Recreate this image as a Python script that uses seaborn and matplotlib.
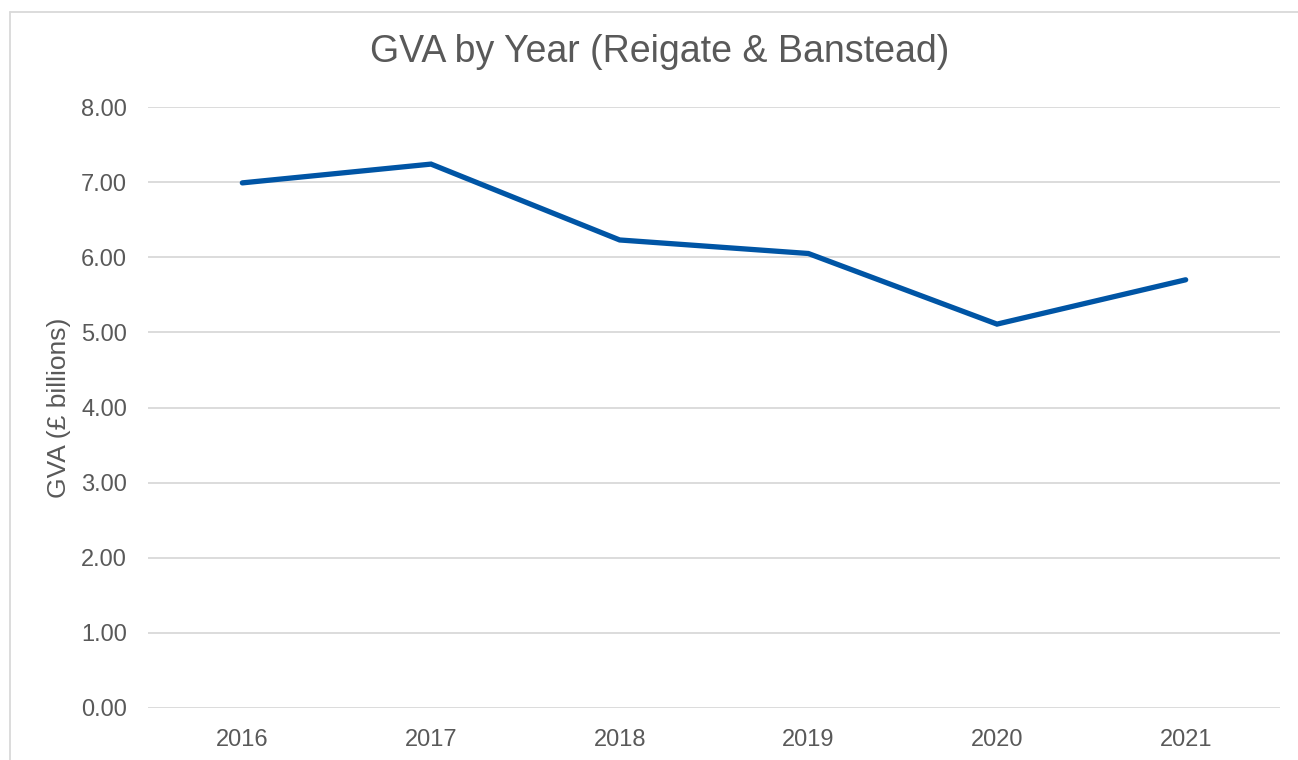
import matplotlib
matplotlib.use("Agg")
import matplotlib.pyplot as plt
import seaborn as sns
import pandas as pd
from matplotlib.lines import Line2D

years = ["2016", "2017", "2018", "2019", "2020", "2021"]
gva = [6.99, 7.24, 6.23, 6.05, 5.11, 5.70]
yticks = [0, 1, 2, 3, 4, 5, 6, 7, 8]

sns.set_theme(style="white")
plt.rcParams["font.family"] = ["Liberation Sans", "DejaVu Sans"]

df = pd.DataFrame({"Year": years, "GVA": gva})

fig = plt.figure(figsize=(12.98, 7.60), dpi=100)
ax = fig.add_axes([148/1298, 52/760, (1280-148)/1298, (708-107)/760])

text_col = "#595959"
sns.lineplot(data=df, x="Year", y="GVA", ax=ax, color="#0055A5", linewidth=3.8,
             solid_capstyle="round", solid_joinstyle="miter", sort=False, clip_on=False, zorder=3)

ax.set_xlim(-0.5, len(years) - 0.5)
ax.set_ylim(0, 8)
ax.set_yticks(yticks)
ax.set_yticklabels([f"{v:.2f}" for v in yticks])
for v in yticks:
    ax.axhline(v, color="#D9D9D9", linewidth=1.3, zorder=1)
ax.grid(False)
for s in ax.spines.values():
    s.set_visible(False)
ax.tick_params(axis="both", length=0, labelsize=17, labelcolor=text_col)
ax.tick_params(axis="y", pad=15)
ax.tick_params(axis="x", pad=15)
ax.set_xlabel("")
ax.set_ylabel("GVA (£ billions)", fontsize=19, color=text_col, labelpad=7)
fig.text(660/1298, 1 - 52/760, "GVA by Year (Reigate & Banstead)", ha="center", va="center",
         fontsize=27, color=text_col)

# chart border
fig.add_artist(Line2D([9.5/1298, 9.5/1298], [0, 1 - 11.5/760], transform=fig.transFigure,
                      color="#D9D9D9", linewidth=1.3))
fig.add_artist(Line2D([9.5/1298, 1], [1 - 11.5/760, 1 - 11.5/760], transform=fig.transFigure,
                      color="#D9D9D9", linewidth=1.3))

fig.savefig("out.png", dpi=100, facecolor="white")
